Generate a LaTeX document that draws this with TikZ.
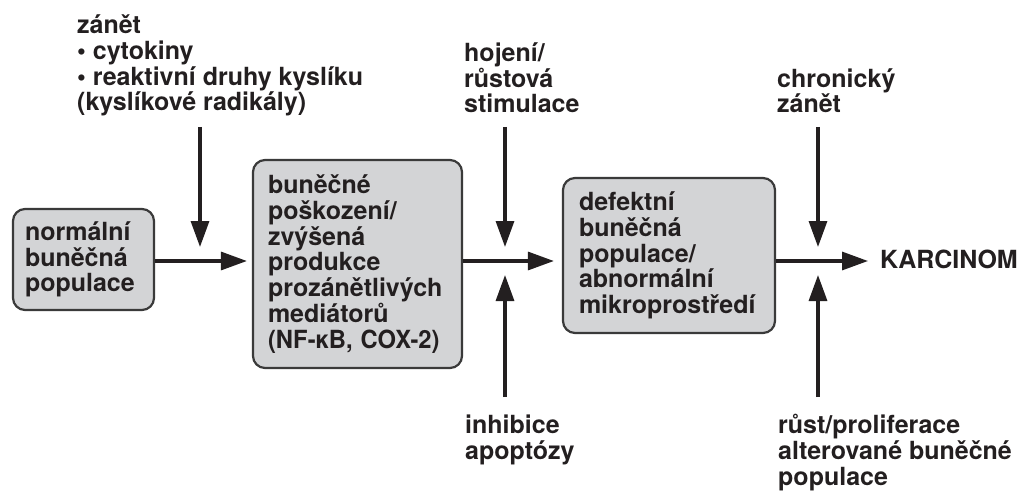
\documentclass[tikz,border=0pt]{standalone}
\usepackage{fontspec}
\setmainfont{TeX Gyre Heros}
\usetikzlibrary{arrows.meta}
\definecolor{txt}{HTML}{231F20}
\definecolor{boxfill}{HTML}{D3D4D6}
\definecolor{boxline}{HTML}{3A3A3A}
\begin{document}
\begin{tikzpicture}[x=1pt,y=-1pt,
  every node/.style={font=\bfseries\fontsize{25}{25.8}\selectfont, text=txt, inner sep=0pt},
  lbl/.style={align=left, anchor=base west},
  cbox/.style={draw=boxline, line width=2.2pt, fill=boxfill, rounded corners=12pt, align=left, anchor=center},
  arr/.style={line width=3.2pt, draw=txt, -{Triangle[length=26pt,width=18pt]}},
]
\useasboundingbox (0,0) rectangle (1022,492);

% boxes
\node[cbox, minimum width=141pt, minimum height=101pt, inner xsep=12pt, text width=117pt]
  (b1) at (83.5,259.5) {normální\\buněčná\\populace};
\node[cbox, minimum width=209pt, minimum height=208pt, inner xsep=15pt, text width=179pt]
  (b2) at (357.5,264) {buněčné\\poškození/\\zvýšená\\produkce\\prozánětlivých\\mediátorů\\\scalebox{0.95}[1]{(NF-κB, COX-2)}};
\node[cbox, minimum width=212pt, minimum height=155pt, inner xsep=16pt, text width=180pt]
  (b3) at (669,255.5) {defektní\\buněčná\\populace/\\abnormální\\mikroprostředí};

% labels (anchor = baseline of the last line)
\node[lbl] (l1) at (77,111) {zánět\\\textbullet\ cytokiny\\\textbullet\ reaktivní druhy kyslíku\\(kyslíkové radikály)};
\node[lbl] (l2) at (464,113) {hojení/\\růstová\\stimulace};
\node[lbl] (l3) at (777,113) {chronický\\zánět};
\node[anchor=base west] (k) at (880,268) {KARCINOM};
\node[lbl] (l4) at (465,459) {inhibice\\apoptózy};
\node[lbl] (l5) at (778,485) {růst/proliferace\\alterované buněčné\\populace};

% coordinates
\coordinate (ml) at (0,261);
\coordinate (a1s) at (200,127); \coordinate (a1e) at (200,247);
\coordinate (a2s) at (505,127); \coordinate (a2e) at (505,247);
\coordinate (a3s) at (818,127); \coordinate (a3e) at (818,247);
\coordinate (u2s) at (505,397); \coordinate (u2e) at (505,275);
\coordinate (u3s) at (818,397); \coordinate (u3e) at (818,275);

% main flow
\draw[arr, shorten >=5pt] (b1.east |- ml) -- (b2.west |- ml);
\draw[arr, shorten >=8pt] (b2.east |- ml) -- (b3.west |- ml);
\draw[arr, shorten >=12pt] (b3.east |- ml) -- (k.west |- ml);

% side influences
\draw[arr] (a1s) -- (a1e);
\draw[arr] (a2s) -- (a2e);
\draw[arr] (a3s) -- (a3e);
\draw[arr] (u2s) -- (u2e);
\draw[arr] (u3s) -- (u3e);
\end{tikzpicture}
\end{document}
